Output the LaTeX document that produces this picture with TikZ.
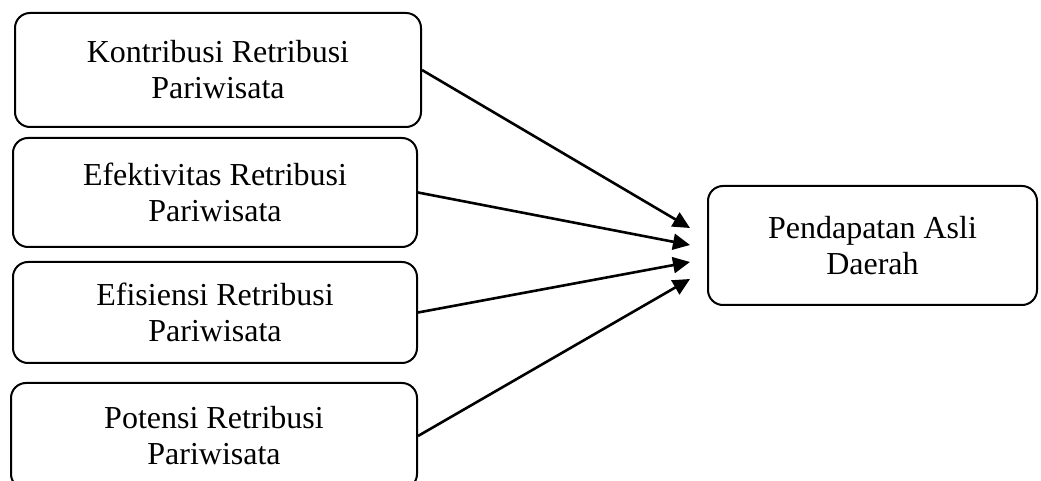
\documentclass[tikz,border=0pt]{standalone}
\usepackage{fontspec}
\setmainfont{Liberation Serif}
\usepackage{tikz}
\usetikzlibrary{arrows.meta,positioning}

\begin{document}
\begin{tikzpicture}[
    x=0.5pt, y=-0.5pt,
    every node/.style={font=\fontsize{16}{18}\selectfont},
    var/.style={rectangle, rounded corners=7.5pt, draw, line width=1pt,
                align=center, inner sep=0pt},
    e/.style={-{Triangle[length=8.5pt, width=8pt]}, line width=1.3pt},
  ]
  \clip (0,0) rectangle (1041,481);
  \node[var, minimum width=203pt, minimum height=57pt] (kontribusi) at (218, 70) {Kontribusi Retribusi\\Pariwisata};
  \node[var, minimum width=202pt, minimum height=54.5pt] (efektivitas) at (215, 192.5) {Efektivitas Retribusi\\Pariwisata};
  \node[var, minimum width=202pt, minimum height=50.5pt] (efisiensi) at (215, 312.5) {Efisiensi Retribusi\\Pariwisata};
  \node[var, minimum width=203pt, minimum height=53pt] (potensi) at (214, 436) {Potensi Retribusi\\Pariwisata};
  \node[var, minimum width=164.5pt, minimum height=59.5pt] (pad) at (872.5, 245.5) {Pendapatan Asli\\Daerah};
  \coordinate (t1) at (690, 228);
  \coordinate (t2) at (690, 245);
  \coordinate (t3) at (690, 262);
  \coordinate (t4) at (690, 279);
  \draw[e] (kontribusi.east) -- (t1);
  \draw[e] (efektivitas.east) -- (t2);
  \draw[e] (efisiensi.east) -- (t3);
  \draw[e] (potensi.east) -- (t4);
\end{tikzpicture}
\end{document}
